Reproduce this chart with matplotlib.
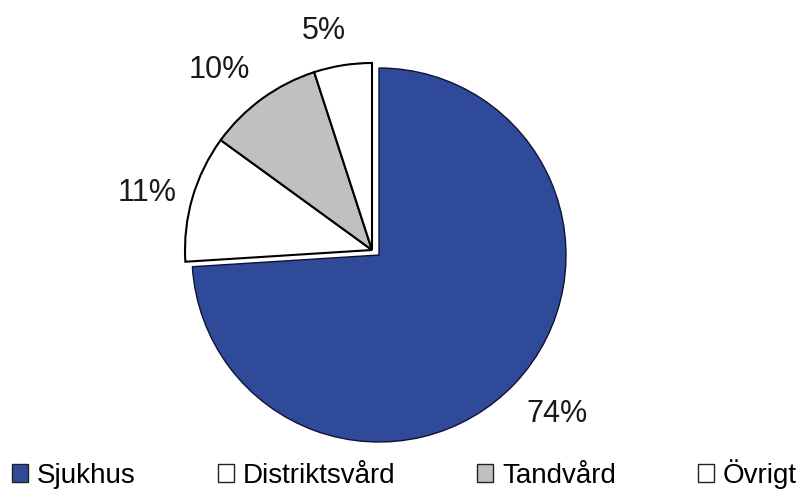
import matplotlib
matplotlib.use("Agg")
import matplotlib.pyplot as plt
from matplotlib.patches import Patch

categories = ["Sjukhus", "Distriktsvård", "Tandvård", "Övrigt"]
values = [74, 11, 10, 5]
colors = ["#2f4a99", "#ffffff", "#c0c0c0", "#ffffff"]

plt.rcParams['font.family'] = ['Liberation Sans', 'DejaVu Sans']

fig = plt.figure(figsize=(8.01, 4.90), dpi=100)
ax = fig.add_axes([0, 0, 1, 1])

cx, cy, r = 379, 235, 187
off = (-7, 5)
label_nudge = [(8, 1), (0, -8), (-15, -9), (-12, -12)]

wedges, texts, autotexts = ax.pie(values, colors=colors, startangle=90, counterclock=False,
                                  center=(cx, cy), radius=r, autopct='%.0f%%', pctdistance=1.25,
                                  wedgeprops=dict(edgecolor='black', linewidth=1.5),
                                  textprops=dict(fontsize=22, color='#1a1a1a'), frame=True)
ax.set_xlim(0, 801)
ax.set_ylim(0, 490)
ax.set_aspect('equal')
ax.axis('off')

wedges[0].set_edgecolor('#111133')
wedges[0].set_linewidth(1.0)
for i, (w, t) in enumerate(zip(wedges, autotexts)):
    x, y = t.get_position()
    dx, dy = label_nudge[i]
    if i > 0:
        w.set_center((cx + off[0], cy + off[1]))
        dx += off[0]
        dy += off[1]
    t.set_position((x + dx, y + dy))

handles = [Patch(facecolor=c, edgecolor='#222222', linewidth=1.0) for c in colors]
fig.legend(handles, categories, loc='center left', bbox_to_anchor=(12 / 801, 16 / 490), ncol=4,
           frameon=False, fontsize=20, handlelength=0.58, handleheight=0.58,
           handletextpad=0.32, columnspacing=2.95, borderaxespad=0, borderpad=0)

fig.savefig("out.png", dpi=100)
